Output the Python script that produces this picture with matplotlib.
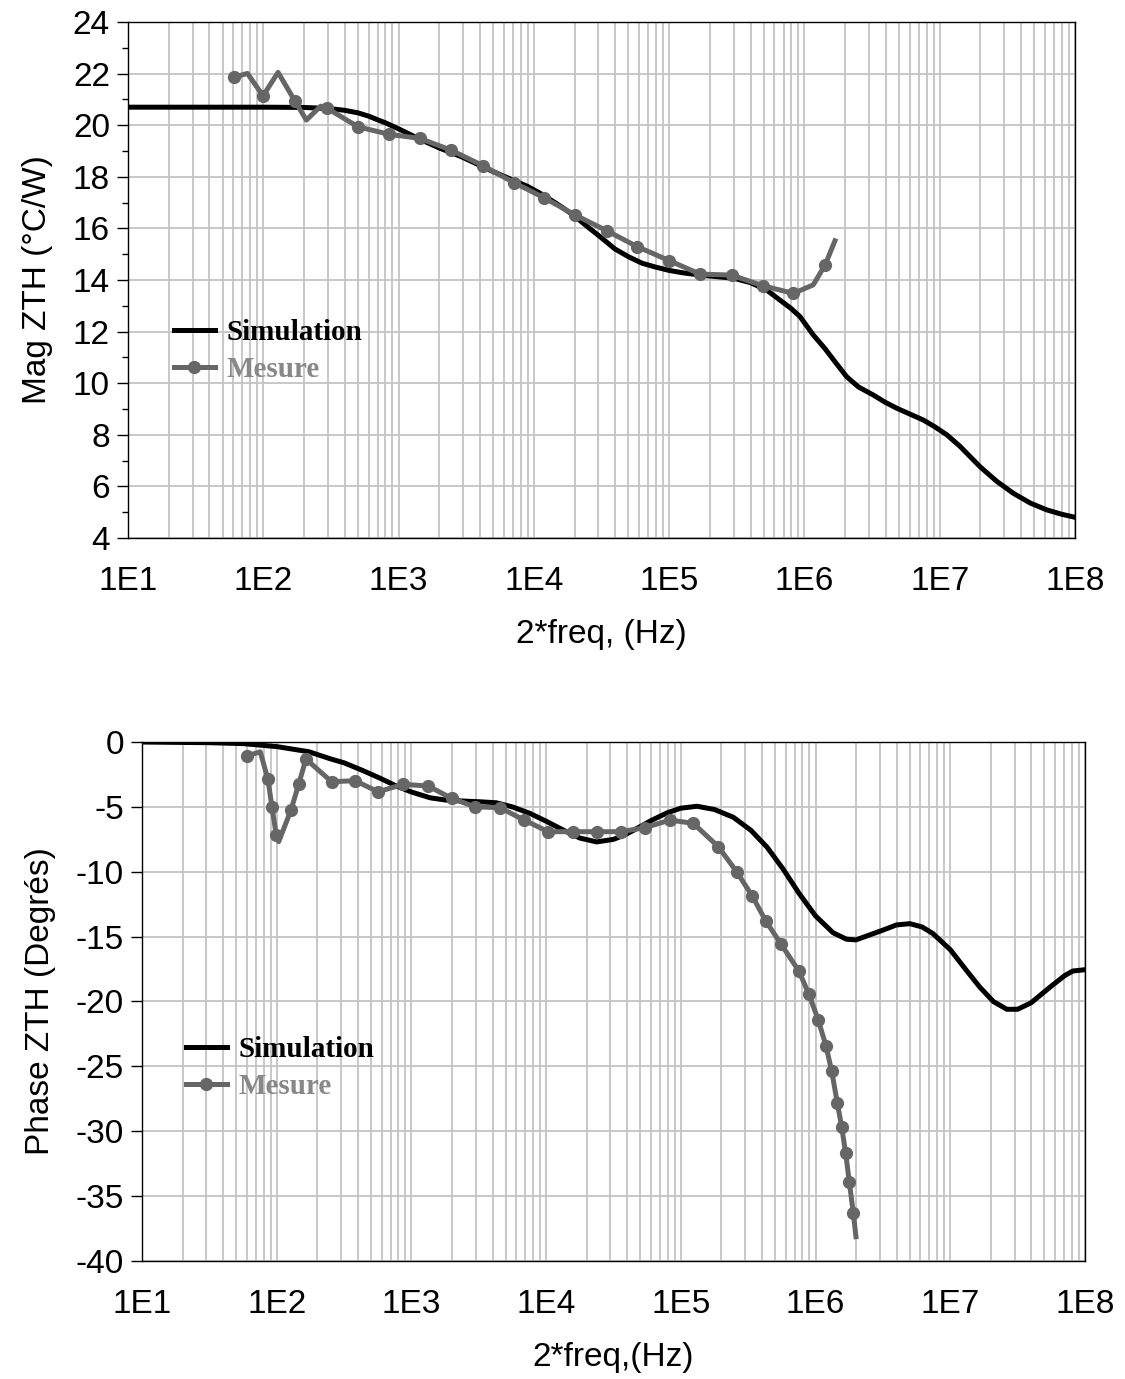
import matplotlib
matplotlib.use("Agg")
import matplotlib.pyplot as plt
from matplotlib.ticker import FixedLocator, FuncFormatter, MultipleLocator, NullFormatter
from matplotlib.lines import Line2D
import numpy as np

plt.rcParams['font.family'] = ['Liberation Sans', 'DejaVu Sans']
plt.rcParams['axes.unicode_minus'] = False

# ---------------- data ----------------
# Magnitude: simulation (x given as log10 of 2*freq in Hz)
mag_sim_logf = [1.0, 2.0, 2.3, 2.48, 2.6, 2.7, 2.78, 2.85, 2.9, 3.0, 3.168, 3.3,
                3.464, 3.7, 3.957, 4.07, 4.2, 4.291, 4.4, 4.489, 4.6, 4.7, 4.8,
                4.9, 5.0, 5.1, 5.228, 5.35, 5.474, 5.6, 5.721, 5.819, 5.9, 5.967,
                6.065, 6.15, 6.23, 6.312, 6.4, 6.509, 6.6, 6.682, 6.78, 6.879,
                6.96, 7.052, 7.15, 7.298, 7.42, 7.544, 7.67, 7.79, 7.9, 8.0]
mag_sim_v = [20.7, 20.7, 20.69, 20.65, 20.58, 20.48, 20.35, 20.2, 20.1, 19.86,
             19.43, 19.12, 18.78, 18.2, 17.62, 17.29, 16.85, 16.52, 16.05, 15.68,
             15.2, 14.9, 14.65, 14.5, 14.37, 14.28, 14.19, 14.13, 14.07, 13.9,
             13.61, 13.22, 12.9, 12.58, 11.87, 11.35, 10.8, 10.25, 9.85, 9.54,
             9.25, 9.03, 8.8, 8.57, 8.32, 8.0, 7.55, 6.76, 6.2, 5.73, 5.35, 5.09,
             4.92, 4.8]

# Magnitude: measurement
mag_meas_f = [60.4, 76.3, 99.6, 128.5, 170.7, 208, 265.6, 295.6, 501, 849, 1432,
              2427, 4207, 7096, 11890, 20140, 34900, 58200, 100200, 169000,
              289800, 491000, 827000, 1.16e6, 1.42e6, 1.68e6]
mag_meas_v = [21.86, 22.01, 21.14, 22.05, 20.95, 20.2, 20.74, 20.66, 19.94, 19.65,
              19.49, 19.04, 18.43, 17.78, 17.19, 16.52, 15.90, 15.29, 14.75, 14.23,
              14.19, 13.78, 13.48, 13.81, 14.58, 15.52]
mag_meas_marks = [0, 2, 4, 7, 8, 9, 10, 11, 12, 13, 14, 15, 16, 17, 18, 19, 20,
                  21, 22, 24]

# Phase: simulation (x given as log10 of 2*freq in Hz)
ph_sim_logf = [1.0, 1.5, 1.75, 2.0, 2.24, 2.4, 2.5, 2.64, 2.77, 2.89, 3.0, 3.14,
               3.26, 3.39, 3.5, 3.63, 3.75, 3.88, 4.0, 4.13, 4.25, 4.375, 4.5,
               4.575, 4.65, 4.78, 4.9, 5.0, 5.12, 5.25, 5.39, 5.52, 5.64, 5.76,
               5.88, 6.0, 6.13, 6.23, 6.3, 6.38, 6.5, 6.6, 6.7, 6.79, 6.87, 7.0,
               7.12, 7.22, 7.32, 7.42, 7.5, 7.6, 7.74, 7.85, 7.91, 8.0]
ph_sim_v = [0, -0.05, -0.12, -0.35, -0.75, -1.3, -1.6, -2.2, -2.8, -3.4, -3.85,
            -4.3, -4.48, -4.55, -4.6, -4.68, -5.0, -5.5, -6.1, -6.8, -7.4, -7.7,
            -7.5, -7.2, -6.8, -6.05, -5.45, -5.1, -4.95, -5.2, -5.8, -6.8, -8.1,
            -9.8, -11.7, -13.4, -14.7, -15.2, -15.25, -14.95, -14.5, -14.1, -14.0,
            -14.25, -14.75, -16.0, -17.6, -18.9, -20.0, -20.6, -20.6, -20.1,
            -18.9, -18.0, -17.65, -17.55]

# Phase: measurement
ph_meas_f = [60.1, 75.5, 86.1, 92.2, 99.3, 103.5, 127.7, 145.6, 164.9, 255.7, 381,
             567, 870, 1334, 1990, 2964, 4545, 6855, 10380, 15820, 23730, 35780,
             54200, 83100, 123900, 189800, 260000, 339000, 426000, 554000, 750000,
             894000, 1.048e6, 1.196e6, 1.318e6, 1.45e6, 1.563e6, 1.674e6,
             1.781e6, 1.907e6, 1.996e6]
ph_meas_v = [-1.08, -0.75, -2.87, -4.99, -7.17, -7.68, -5.24, -3.26, -1.31, -3.06,
             -2.98, -3.83, -3.26, -3.39, -4.34, -4.99, -5.06, -6.01, -6.91, -6.91,
             -6.91, -6.91, -6.60, -6.01, -6.27, -8.07, -10.0, -11.87, -13.77,
             -15.57, -17.63, -19.45, -21.43, -23.43, -25.36, -27.80, -29.65,
             -31.70, -33.89, -36.32, -38.13]
ph_meas_marks = [i for i in range(len(ph_meas_f)) if i not in (1, 5, 40)]

x_ticks = [1e1, 1e2, 1e3, 1e4, 1e5, 1e6, 1e7, 1e8]
x_tick_labels = ['1E1', '1E2', '1E3', '1E4', '1E5', '1E6', '1E7', '1E8']

# ---------------- style ----------------
SIM_C = 'black'
MEAS_C = '#666666'
GRID_C = '#c4c4c4'
LW = 3.6
MS = 8.5
FS = 24

fig = plt.figure(figsize=(11.25, 13.79), dpi=100)
ax1 = fig.add_axes([0.1138, 0.6099, 0.9556 - 0.1138, 0.9840 - 0.6099])
ax2 = fig.add_axes([0.1262, 0.0856, 0.9644 - 0.1262, 0.4619 - 0.0856])

minor_x = [m * 10 ** e for e in range(1, 8) for m in range(2, 10)]


def style_axes(ax):
    ax.set_xscale('log')
    ax.set_xlim(1e1, 1e8)
    ax.xaxis.set_major_locator(FixedLocator(x_ticks))
    ax.xaxis.set_major_formatter(FuncFormatter(
        lambda v, p: x_tick_labels[x_ticks.index(v)] if v in x_ticks else ''))
    ax.xaxis.set_minor_locator(FixedLocator(minor_x))
    ax.xaxis.set_minor_formatter(NullFormatter())
    ax.grid(True, which='major', color=GRID_C, lw=1.3)
    ax.grid(True, which='minor', axis='x', color=GRID_C, lw=1.3)
    ax.set_axisbelow(True)
    for s in ax.spines.values():
        s.set_color('black')
        s.set_linewidth(1.0)
    ax.tick_params(axis='both', which='major', labelsize=FS, direction='out',
                   length=8, width=1, pad=5)
    ax.tick_params(axis='x', which='minor', length=0)
    ax.tick_params(axis='x', which='major', length=0, pad=20)


# ---------------- top: magnitude ----------------
style_axes(ax1)
ax1.set_ylim(4, 24)
ax1.yaxis.set_major_locator(MultipleLocator(2))
ax1.yaxis.set_minor_locator(MultipleLocator(1))
ax1.tick_params(axis='y', which='minor', length=4, width=1)
ax1.plot(np.power(10.0, mag_sim_logf), mag_sim_v, color=SIM_C, lw=LW, zorder=3)
ax1.plot(mag_meas_f, mag_meas_v, color=MEAS_C, lw=LW, marker='o', ms=MS,
         markevery=mag_meas_marks, zorder=4)
ax1.set_xlabel('2*freq, (Hz)', fontsize=FS, labelpad=16)
ax1.set_ylabel('Mag ZTH (°C/W)', fontsize=FS, labelpad=14)

# ---------------- bottom: phase ----------------
style_axes(ax2)
ax2.set_ylim(-40, 0)
ax2.yaxis.set_major_locator(MultipleLocator(5))
ax2.plot(np.power(10.0, ph_sim_logf), ph_sim_v, color=SIM_C, lw=LW, zorder=3)
ax2.plot(ph_meas_f, ph_meas_v, color=MEAS_C, lw=LW, marker='o', ms=MS,
         markevery=ph_meas_marks, zorder=4)
ax2.set_xlabel('2*freq,(Hz)', fontsize=FS, labelpad=16)
ax2.set_ylabel('Phase ZTH (Degrés)', fontsize=FS, labelpad=14)

# ---------------- legends ----------------
handles = [Line2D([], [], color=SIM_C, lw=LW),
           Line2D([], [], color=MEAS_C, lw=LW, marker='o', ms=MS)]
labels = ['Simulation', 'Mesure']


def add_legend(ax, anchor):
    leg = ax.legend(handles, labels, loc='upper left', bbox_to_anchor=anchor,
                    bbox_transform=fig.transFigure, frameon=False,
                    prop={'family': 'Liberation Serif', 'weight': 'bold', 'size': 21},
                    handlelength=1.4, handletextpad=0.4, labelspacing=0.35,
                    borderaxespad=0, borderpad=0)
    leg.get_texts()[0].set_color('black')
    leg.get_texts()[1].set_color('#888888')


add_legend(ax1, (174 / 1125, 1 - 319 / 1379))
add_legend(ax2, (186 / 1125, 1 - 1036 / 1379))

fig.savefig('out.png', dpi=100)
